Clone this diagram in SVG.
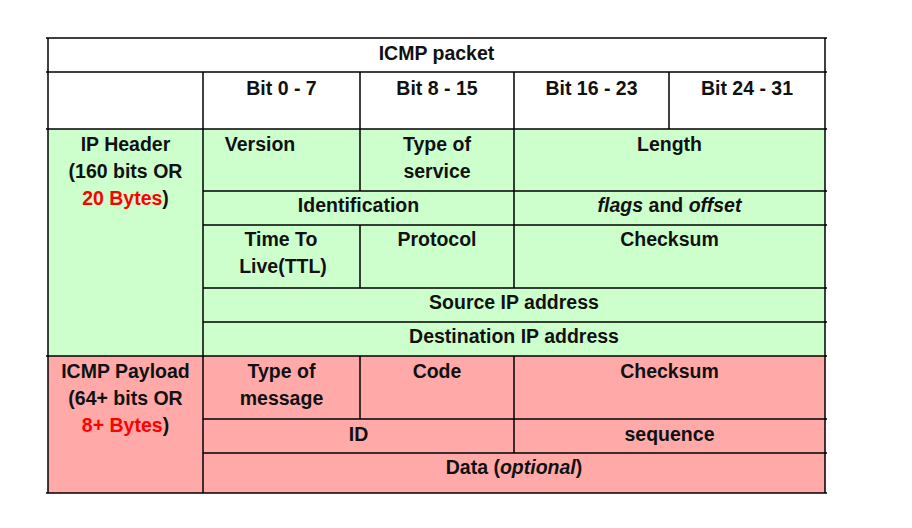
<svg xmlns="http://www.w3.org/2000/svg" width="912" height="528" viewBox="0 0 912 528">
  <style>
    text { font-family: "Liberation Sans", Arial, sans-serif; font-weight: bold; font-size: 19.5px; fill: #111; text-anchor: middle; }
    .red { fill: #ff0000; }
    .it { font-style: italic; }
    .grid { stroke: #000; stroke-width: 1.5; fill: none; }
    .ip { fill: #ccffcc; }
    .icmp { fill: #ffa9a9; }
  </style>

  <!-- background -->
  <rect width="912" height="528" fill="#ffffff"/>

  <!-- section fills -->
  <g id="fills">
    <rect class="ip" x="48" y="129" width="777" height="227"/>
    <rect class="icmp" x="48" y="356" width="777" height="137"/>
  </g>

  <!-- table rules -->
  <g id="grid" class="grid">
    <path d="M46 38H827M46 72H827M46 129H827M203 191H827M203 225H827M203 288H827M203 322H827M46 356H827M203 419H827M203 453H827M46 493H827"/>
    <path d="M48 38V493M825 38V493"/>
    <path d="M203 72V493"/>
    <path d="M360 72V191M360 225V288M360 356V419"/>
    <path d="M514 72V288M514 356V453"/>
    <path d="M669 72V129"/>
  </g>

  <g id="title"><text x="436.5" y="60">ICMP packet</text></g>

  <g id="bit-header">
    <text x="281.5" y="95">Bit 0 - 7</text>
    <text x="437" y="95">Bit 8 - 15</text>
    <text x="591.5" y="95">Bit 16 - 23</text>
    <text x="747" y="95">Bit 24 - 31</text>
  </g>

  <g id="ip-header-label">
    <text x="125.5" y="151">IP Header</text>
    <text x="125.5" y="178">(160 bits OR</text>
    <text x="125.5" y="205"><tspan class="red">20 Bytes</tspan>)</text>
  </g>

  <g id="ip-fields">
    <text x="260" y="151">Version</text>
    <text x="437" y="151">Type of</text>
    <text x="437" y="178">service</text>
    <text x="669.5" y="151">Length</text>
    <text x="358.5" y="212">Identification</text>
    <text x="669.5" y="212"><tspan class="it">flags</tspan> and <tspan class="it">offset</tspan></text>
    <text x="281" y="246">Time To</text>
    <text x="283" y="273">Live(TTL)</text>
    <text x="437" y="246">Protocol</text>
    <text x="669.5" y="246">Checksum</text>
    <text x="514" y="309">Source IP address</text>
    <text x="514" y="343">Destination IP address</text>
  </g>

  <g id="icmp-payload-label">
    <text x="125.5" y="378">ICMP Payload</text>
    <text x="125.5" y="405">(64+ bits OR</text>
    <text x="125.5" y="432"><tspan class="red">8+ Bytes</tspan>)</text>
  </g>

  <g id="icmp-fields">
    <text x="281.5" y="378">Type of</text>
    <text x="281.5" y="405">message</text>
    <text x="437" y="378">Code</text>
    <text x="669.5" y="378">Checksum</text>
    <text x="358.5" y="441">ID</text>
    <text x="669.5" y="441">sequence</text>
    <text x="514" y="474">Data (<tspan class="it">optional</tspan>)</text>
  </g>
</svg>
